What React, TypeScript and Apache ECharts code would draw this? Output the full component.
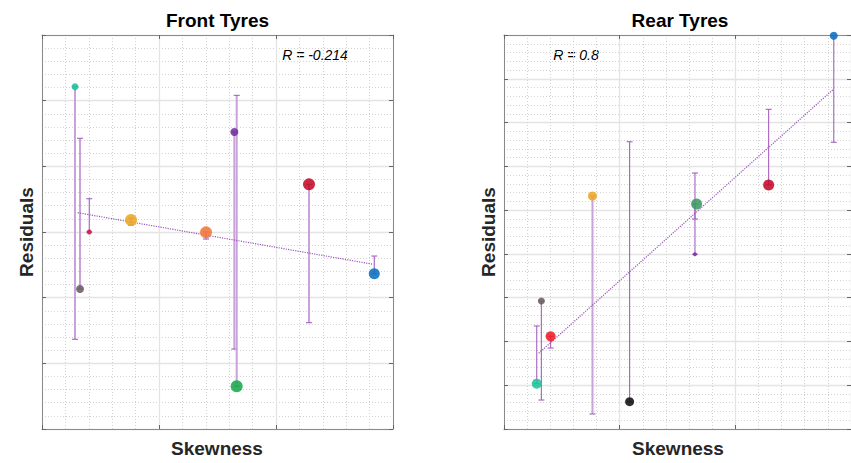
import React, { useEffect, useRef } from "react";
import * as echarts from "echarts";

// ---------- Data ----------
// Front tyres: points
const frontX = [0.282, 0.325, 0.404, 0.761, 1.402, 1.644, 1.664, 2.282, 2.84];
const frontY = [5.213, 2.132, 3.0, 3.183, 2.995, 4.523, 0.65, 3.726, 2.365];
// Front tyres: error bars (x, low, high)
const frontBarX = [0.282, 0.325, 0.404, 0.761, 1.402, 1.644, 1.664, 2.282, 2.84];
const frontBarLow = [1.366, 2.132, 3.0, 3.106, 2.893, 1.218, 0.65, 1.619, 2.365];
const frontBarHigh = [5.213, 4.427, 3.507, 3.209, 3.0, 4.523, 5.081, 3.726, 2.634];
// Front regression line
const frontFitX = [0.305, 2.832];
const frontFitY = [3.294, 2.508];
const frontR = "R = -0.214";

// Rear tyres: points
const rearX = [2.851, 2.288, 1.665, 1.651, 0.765, 1.086, 0.323, 0.283, 0.403];
const rearY = [8.984, 5.573, 5.139, 3.99, 5.322, 0.624, 2.924, 1.035, 2.117];
// Rear tyres: error bars
const rearBarX = [2.851, 2.288, 1.651, 1.651, 0.765, 1.086, 0.323, 0.283, 0.403];
const rearBarLow = [6.549, 5.573, 4.797, 3.99, 0.343, 0.624, 0.662, 1.035, 1.85];
const rearBarHigh = [8.984, 7.302, 5.847, 5.139, 5.322, 6.562, 2.924, 2.353, 2.117];
// Rear regression line
const rearFitX = [0.3, 2.851];
const rearFitY = [1.729, 7.766];
const rearR = "R = 0.8";

// Axis ranges (no tick labels shown)
const frontXRange = [0, 3];
const frontYRange = [0, 6];
const rearXRange = [0, 3];
const rearYRange = [0, 9];

const titles = ["Front Tyres", "Rear Tyres"];
const xLabel = "Skewness";
const yLabel = "Residuals";

// ---------- Styles ----------
const frontColors = ["#1cc49a", "#6a5f66", "#d0154a", "#eba823", "#f07838", "#7030a0", "#18aa4c", "#c40a28", "#0b6fc0"];
const frontSizes = [7, 8, 5, 12, 12, 8, 12, 12, 11];
const frontBarKind = ["light", "light", "dark", "dark", "dark", "light", "light", "light", "dark"];

const rearColors = ["#0b6fc0", "#c40a28", "#3c9a62", "#7a3496", "#eba823", "#111111", "#6a5f66", "#1cc49a", "#ee1c25"];
const rearSizes = [8, 11, 11, 4, 9, 9, 7, 10, 10];
const rearBarKind = ["dark", "dark", "dark", "dark", "light", "dark", "dark", "dark", "dark"];

const FONT = '"Liberation Sans", Arial, Helvetica, sans-serif';

function makeAxes(gridIndex: number, xr: number[], yr: number[]) {
  const lineStyle = { color: "#8a8a8a", width: 1 };
  const split = { show: true, lineStyle: { color: "#e4e4e4", width: 1.3 } };
  const minorSplit = { show: true, lineStyle: { color: "#d2d2d2", width: 1, type: [1, 2] } };
  const tick = { show: true, inside: true, length: 4, lineStyle: { color: "#666" } };
  const x = [
    {
      type: "value", gridIndex, min: xr[0], max: xr[1], interval: 1, position: "bottom",
      axisLine: { show: true, onZero: false, lineStyle }, axisTick: tick, axisLabel: { show: false },
      splitLine: split, minorTick: { show: false, splitNumber: 5 }, minorSplitLine: minorSplit,
    },
    {
      type: "value", gridIndex, min: xr[0], max: xr[1], interval: 1, position: "top",
      axisLine: { show: true, onZero: false, lineStyle }, axisTick: tick, axisLabel: { show: false },
      splitLine: { show: false },
    },
  ];
  const y = [
    {
      type: "value", gridIndex, min: yr[0], max: yr[1], interval: 1, position: "left",
      axisLine: { show: true, onZero: false, lineStyle }, axisTick: tick, axisLabel: { show: false },
      splitLine: split, minorTick: { show: false, splitNumber: 5 }, minorSplitLine: minorSplit,
    },
    {
      type: "value", gridIndex, min: yr[0], max: yr[1], interval: 1, position: "right",
      axisLine: { show: true, onZero: false, lineStyle }, axisTick: tick, axisLabel: { show: false },
      splitLine: { show: false },
    },
  ];
  return { x, y };
}

function errorSeries(xIdx: number, yIdx: number, bx: number[], lo: number[], hi: number[], kind: string[], which: string) {
  const data: number[][] = [];
  bx.forEach((v, i) => {
    if (kind[i] === which) data.push([v, lo[i], hi[i]]);
  });
  const color = which === "light" ? "#c9a2d9" : "#a461bf";
  const width = which === "light" ? 2 : 1.1;
  return {
    type: "custom",
    xAxisIndex: xIdx,
    yAxisIndex: yIdx,
    z: 3,
    silent: true,
    data,
    renderItem: (params: any, api: any) => {
      const x = api.value(0);
      const p1 = api.coord([x, api.value(1)]);
      const p2 = api.coord([x, api.value(2)]);
      const style = { stroke: color, lineWidth: width };
      const capStyle = { stroke: "#a461bf", lineWidth: 1.1 };
      return {
        type: "group",
        children: [
          { type: "line", shape: { x1: p1[0], y1: p1[1], x2: p2[0], y2: p2[1] }, style },
          { type: "line", shape: { x1: p1[0] - 3, y1: p1[1], x2: p1[0] + 3, y2: p1[1] }, style: capStyle },
          { type: "line", shape: { x1: p2[0] - 3, y1: p2[1], x2: p2[0] + 3, y2: p2[1] }, style: capStyle },
        ],
      };
    },
  };
}

function scatterSeries(xIdx: number, yIdx: number, xs: number[], ys: number[], colors: string[], sizes: number[]) {
  return {
    type: "scatter",
    xAxisIndex: xIdx,
    yAxisIndex: yIdx,
    z: 5,
    silent: true,
    data: xs.map((x, i) => ({
      value: [x, ys[i]],
      symbolSize: sizes[i],
      itemStyle: { color: colors[i], opacity: 0.88 },
    })),
  };
}

function fitSeries(xIdx: number, yIdx: number, xs: number[], ys: number[]) {
  return {
    type: "line",
    xAxisIndex: xIdx,
    yAxisIndex: yIdx,
    z: 4,
    silent: true,
    showSymbol: false,
    symbol: "none",
    data: xs.map((x, i) => [x, ys[i]]),
    lineStyle: { color: "#9b55b8", width: 1.2, type: "dotted" },
  };
}

export default function App() {
  const ref = useRef<HTMLDivElement>(null);
  useEffect(() => {
    if (!ref.current) return;
    const chart = echarts.init(ref.current, undefined, { renderer: "svg" });
    const a0 = makeAxes(0, frontXRange, frontYRange);
    const a1 = makeAxes(1, rearXRange, rearYRange);
    const grids = [
      { left: 42, top: 35, width: 351, height: 394 },
      { left: 504, top: 35, width: 351, height: 394 },
    ];
    const textStyle = (size: number, weight: string, style = "normal", color = "#1a1a1a") => ({
      font: `${style} ${weight} ${size}px ${FONT}`,
      fill: color,
      textAlign: "center",
      textVerticalAlign: "middle",
      align: "center",
      verticalAlign: "middle",
    });
    const option: any = {
      animation: false,
      grid: grids,
      xAxis: [...a0.x, ...a1.x],
      yAxis: [...a0.y, ...a1.y],
      series: [
        errorSeries(0, 0, frontBarX, frontBarLow, frontBarHigh, frontBarKind, "light"),
        errorSeries(0, 0, frontBarX, frontBarLow, frontBarHigh, frontBarKind, "dark"),
        fitSeries(0, 0, frontFitX, frontFitY),
        scatterSeries(0, 0, frontX, frontY, frontColors, frontSizes),
        errorSeries(2, 2, rearBarX, rearBarLow, rearBarHigh, rearBarKind, "light"),
        errorSeries(2, 2, rearBarX, rearBarLow, rearBarHigh, rearBarKind, "dark"),
        fitSeries(2, 2, rearFitX, rearFitY),
        scatterSeries(2, 2, rearX, rearY, rearColors, rearSizes),
      ],
      graphic: [
        { type: "text", x: 217.5, y: 20, style: { text: titles[0], ...textStyle(19, "bold", "normal", "#000") } },
        { type: "text", x: 680, y: 20, style: { text: titles[1], ...textStyle(19, "bold", "normal", "#000") } },
        { type: "text", x: 217, y: 448, style: { text: xLabel, ...textStyle(19, "bold", "normal", "#262626") } },
        { type: "text", x: 678, y: 448, style: { text: xLabel, ...textStyle(19, "bold", "normal", "#262626") } },
        { type: "text", x: 26, y: 232, rotation: Math.PI / 2, style: { text: yLabel, ...textStyle(19, "bold", "normal", "#262626") } },
        { type: "text", x: 488, y: 232, rotation: Math.PI / 2, style: { text: yLabel, ...textStyle(19, "bold", "normal", "#262626") } },
        { type: "text", x: 315, y: 55, style: { text: frontR, ...textStyle(14, "normal", "italic", "#000") } },
        { type: "text", x: 576, y: 55, style: { text: rearR, ...textStyle(14, "normal", "italic", "#000") } },
      ],
    };
    chart.setOption(option);
    return () => chart.dispose();
  }, []);
  return (
    <div
      ref={ref}
      style={{ position: "fixed", left: 0, top: 0, width: 851, height: 463, background: "#fff" }}
    />
  );
}
